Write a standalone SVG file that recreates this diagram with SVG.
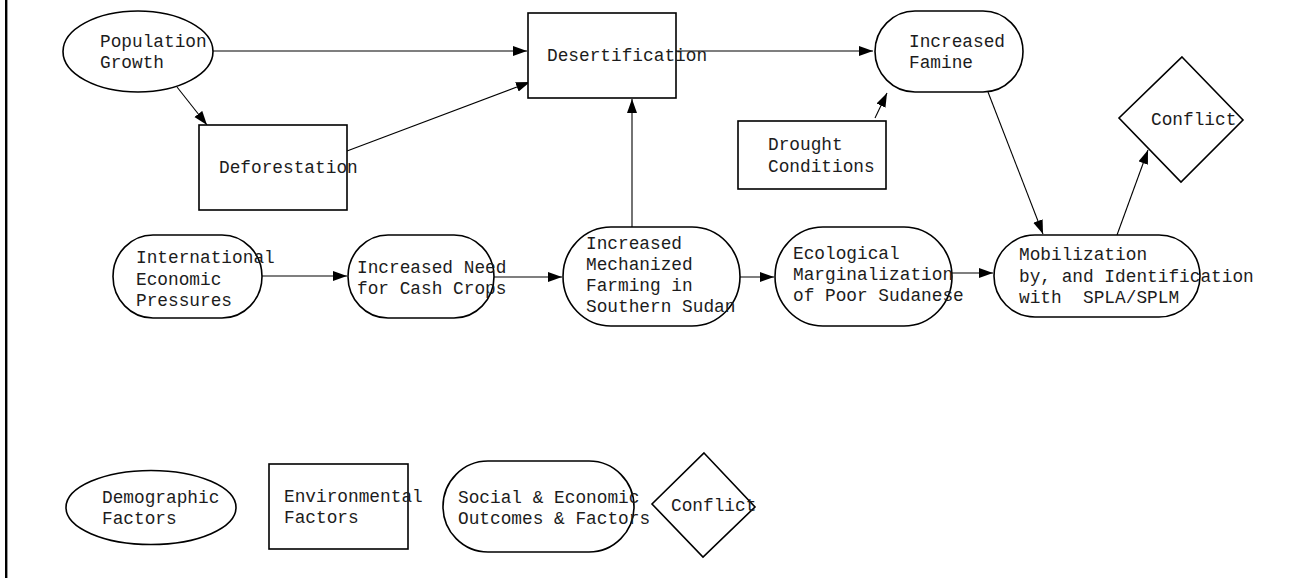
<svg xmlns="http://www.w3.org/2000/svg" width="1312" height="578" viewBox="0 0 1312 578">
  <style>
    .shape { fill: #ffffff; stroke: #000000; stroke-width: 1.6; }
    .edge { fill: none; stroke: #000000; stroke-width: 1.1; marker-end: url(#arrow); }
    .lbl { font-family: "Liberation Mono", "Courier New", monospace; font-size: 17.8px; fill: #1c1c1c; }
  </style>
  <defs>
    <marker id="arrow" markerUnits="userSpaceOnUse" markerWidth="15" markerHeight="11" refX="14" refY="5" orient="auto">
      <path d="M0,0 L14,5 L0,10 z" fill="#000000"/>
    </marker>
  </defs>

  <rect width="1312" height="578" fill="#ffffff"/>
  <!-- left frame edge -->
  <line x1="6.2" y1="0" x2="6.2" y2="578" stroke="#000000" stroke-width="2.4"/>

  <!-- connectors -->
  <g id="connectors">
    <path class="edge" d="M213,51 L527,51"/>
    <path class="edge" d="M177,87 L207,125"/>
    <path class="edge" d="M347,151 L530,82"/>
    <path class="edge" d="M676,51 L873,51"/>
    <path class="edge" d="M875,118 L887,93"/>
    <path class="edge" d="M632,227 L632,99"/>
    <path class="edge" d="M262,276 L347,276"/>
    <path class="edge" d="M494,277 L562,277"/>
    <path class="edge" d="M740,277 L774,277"/>
    <path class="edge" d="M952,273 L993,273"/>
    <path class="edge" d="M988,92 L1043,234"/>
    <path class="edge" d="M1117,235 L1148,150"/>
  </g>

  <g id="population-growth">
    <ellipse class="shape" cx="138" cy="51.5" rx="75" ry="40.5"/>
    <text class="lbl" x="100" y="47">Population</text>
    <text class="lbl" x="100" y="68">Growth</text>
  </g>

  <g id="deforestation">
    <rect class="shape" x="199" y="125" width="148" height="85"/>
    <text class="lbl" x="219" y="173">Deforestation</text>
  </g>

  <g id="desertification">
    <rect class="shape" x="528" y="13" width="148" height="85"/>
    <text class="lbl" x="547" y="61">Desertification</text>
  </g>

  <g id="increased-famine">
    <rect class="shape" x="875" y="11" width="148" height="81" rx="40" ry="40.5"/>
    <text class="lbl" x="909" y="47">Increased</text>
    <text class="lbl" x="909" y="68">Famine</text>
  </g>

  <g id="drought-conditions">
    <rect class="shape" x="738" y="121" width="148" height="68"/>
    <text class="lbl" x="768" y="150">Drought</text>
    <text class="lbl" x="768" y="172">Conditions</text>
  </g>

  <g id="conflict">
    <polygon class="shape" points="1182,57 1243,120 1181,182 1119,118"/>
    <text class="lbl" x="1151" y="125">Conflict</text>
  </g>

  <g id="international-pressures">
    <rect class="shape" x="113" y="235" width="149" height="83" rx="40" ry="41.5"/>
    <text class="lbl" x="136" y="263">International</text>
    <text class="lbl" x="136" y="285">Economic</text>
    <text class="lbl" x="136" y="306">Pressures</text>
  </g>

  <g id="cash-crops">
    <rect class="shape" x="348" y="235" width="146" height="83" rx="40" ry="41.5"/>
    <text class="lbl" x="357" y="273">Increased Need</text>
    <text class="lbl" x="357" y="294">for Cash Crops</text>
  </g>

  <g id="mechanized-farming">
    <rect class="shape" x="563" y="227" width="177" height="99" rx="48" ry="49.5"/>
    <text class="lbl" x="586" y="249">Increased</text>
    <text class="lbl" x="586" y="270">Mechanized</text>
    <text class="lbl" x="586" y="291">Farming in</text>
    <text class="lbl" x="586" y="312">Southern Sudan</text>
  </g>

  <g id="ecological-marginalization">
    <rect class="shape" x="775" y="227" width="177" height="99" rx="48" ry="49.5"/>
    <text class="lbl" x="793" y="259">Ecological</text>
    <text class="lbl" x="793" y="280">Marginalization</text>
    <text class="lbl" x="793" y="301">of Poor Sudanese</text>
  </g>

  <g id="mobilization">
    <rect class="shape" x="994" y="235" width="206" height="82" rx="41" ry="41"/>
    <text class="lbl" x="1019" y="260">Mobilization</text>
    <text class="lbl" x="1019" y="282">by, and Identification</text>
    <text class="lbl" x="1019" y="303" xml:space="preserve">with  SPLA/SPLM</text>
  </g>

  <!-- key -->
  <g id="key-demographic">
    <ellipse class="shape" cx="151" cy="507.5" rx="85" ry="37"/>
    <text class="lbl" x="102" y="503">Demographic</text>
    <text class="lbl" x="102" y="524">Factors</text>
  </g>

  <g id="key-environmental">
    <rect class="shape" x="269" y="464" width="139" height="85"/>
    <text class="lbl" x="284" y="502">Environmental</text>
    <text class="lbl" x="284" y="523">Factors</text>
  </g>

  <g id="key-social-economic">
    <rect class="shape" x="443" y="461" width="191" height="91" rx="45" ry="45.5"/>
    <text class="lbl" x="458" y="503">Social &amp; Economic</text>
    <text class="lbl" x="458" y="524">Outcomes &amp; Factors</text>
  </g>

  <g id="key-conflict">
    <polygon class="shape" points="704,453 755,507 703,557 652,504"/>
    <text class="lbl" x="671" y="511">Conflict</text>
  </g>
</svg>
